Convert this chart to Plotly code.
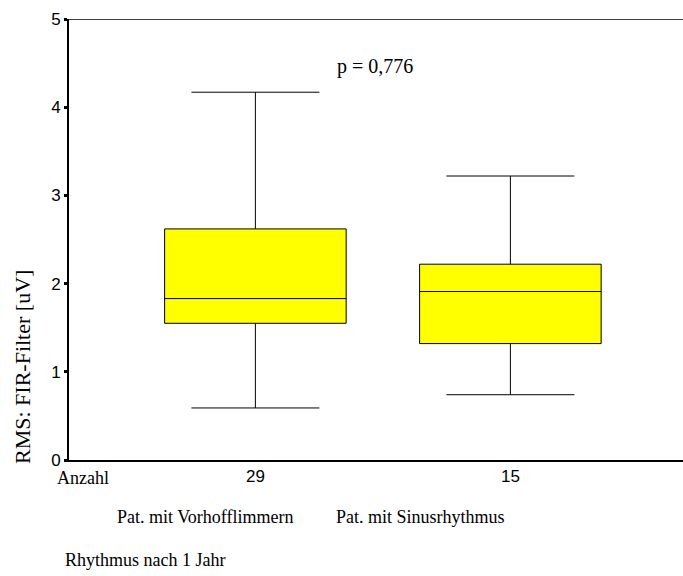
import plotly.graph_objects as go

# Groups and summary statistics of the RMS value (FIR filter)
groups = ["Pat. mit Vorhofflimmern", "Pat. mit Sinusrhythmus"]
counts = ["29", "15"]
lower_whisker = [0.59, 0.74]
q1 = [1.55, 1.32]
median = [1.83, 1.91]
q3 = [2.62, 2.22]
upper_whisker = [4.17, 3.22]
y_ticks = [0, 1, 2, 3, 4, 5]

SERIF = "Liberation Serif, Times New Roman, serif"
SANS = "Liberation Sans, Arial, sans-serif"

fig = go.Figure()
fig.add_trace(go.Box(
    x=[0, 1],
    q1=q1, median=median, q3=q3,
    lowerfence=lower_whisker, upperfence=upper_whisker,
    fillcolor="#FFFF00",
    line=dict(color="black", width=1),
    width=0.712,
    whiskerwidth=0.705,
    boxpoints=False,
    showlegend=False,
    hoverinfo="skip",
))

fig.update_layout(
    width=683, height=576,
    margin=dict(l=69, r=0, t=19, b=116),
    paper_bgcolor="white", plot_bgcolor="white",
    xaxis=dict(
        range=[-0.731, 1.677],
        tickvals=[0, 1], ticktext=counts,
        showgrid=False, zeroline=False,
        showline=True, linecolor="black", linewidth=2,
        ticks="", tickfont=dict(family=SANS, size=17, color="black"),
    ),
    yaxis=dict(
        range=[0, 5],
        tickvals=y_ticks,
        showgrid=False, zeroline=False,
        showline=True, linecolor="black", linewidth=2,
        ticks="outside", ticklen=3, tickwidth=3, tickcolor="black",
        tickfont=dict(family=SANS, size=17, color="black"),
    ),
)

# top frame line
fig.add_shape(type="line", xref="paper", yref="y", x0=0, x1=1, y0=5, y1=5,
              line=dict(color="black", width=1.5))

def label(text, x, y, size=18, xanchor="center", angle=0):
    fig.add_annotation(text=text, x=x, y=y, xref="paper", yref="paper",
                       xanchor=xanchor, yanchor="middle", showarrow=False,
                       textangle=angle,
                       font=dict(family=SERIF, size=size, color="black"))

pw = 683 - 69
ph = 460 - 19
def px(xp):
    return (xp - 69) / pw
def py(yp):
    return (460 - yp) / ph

fig.add_annotation(text="p = 0,776", x=0.469, y=4.456, xref="x", yref="y",
                   showarrow=False, xanchor="center", yanchor="middle",
                   font=dict(family=SERIF, size=20, color="black"))
label("RMS: FIR-Filter [uV]", px(22), py(367), size=22, angle=-90)
label("Anzahl", px(55), py(478), xanchor="left")
label(groups[0], px(205), py(517))
label(groups[1], px(420), py(517))
label("Rhythmus nach 1 Jahr", px(63), py(560), xanchor="left")

fig.write_html("out.html")
